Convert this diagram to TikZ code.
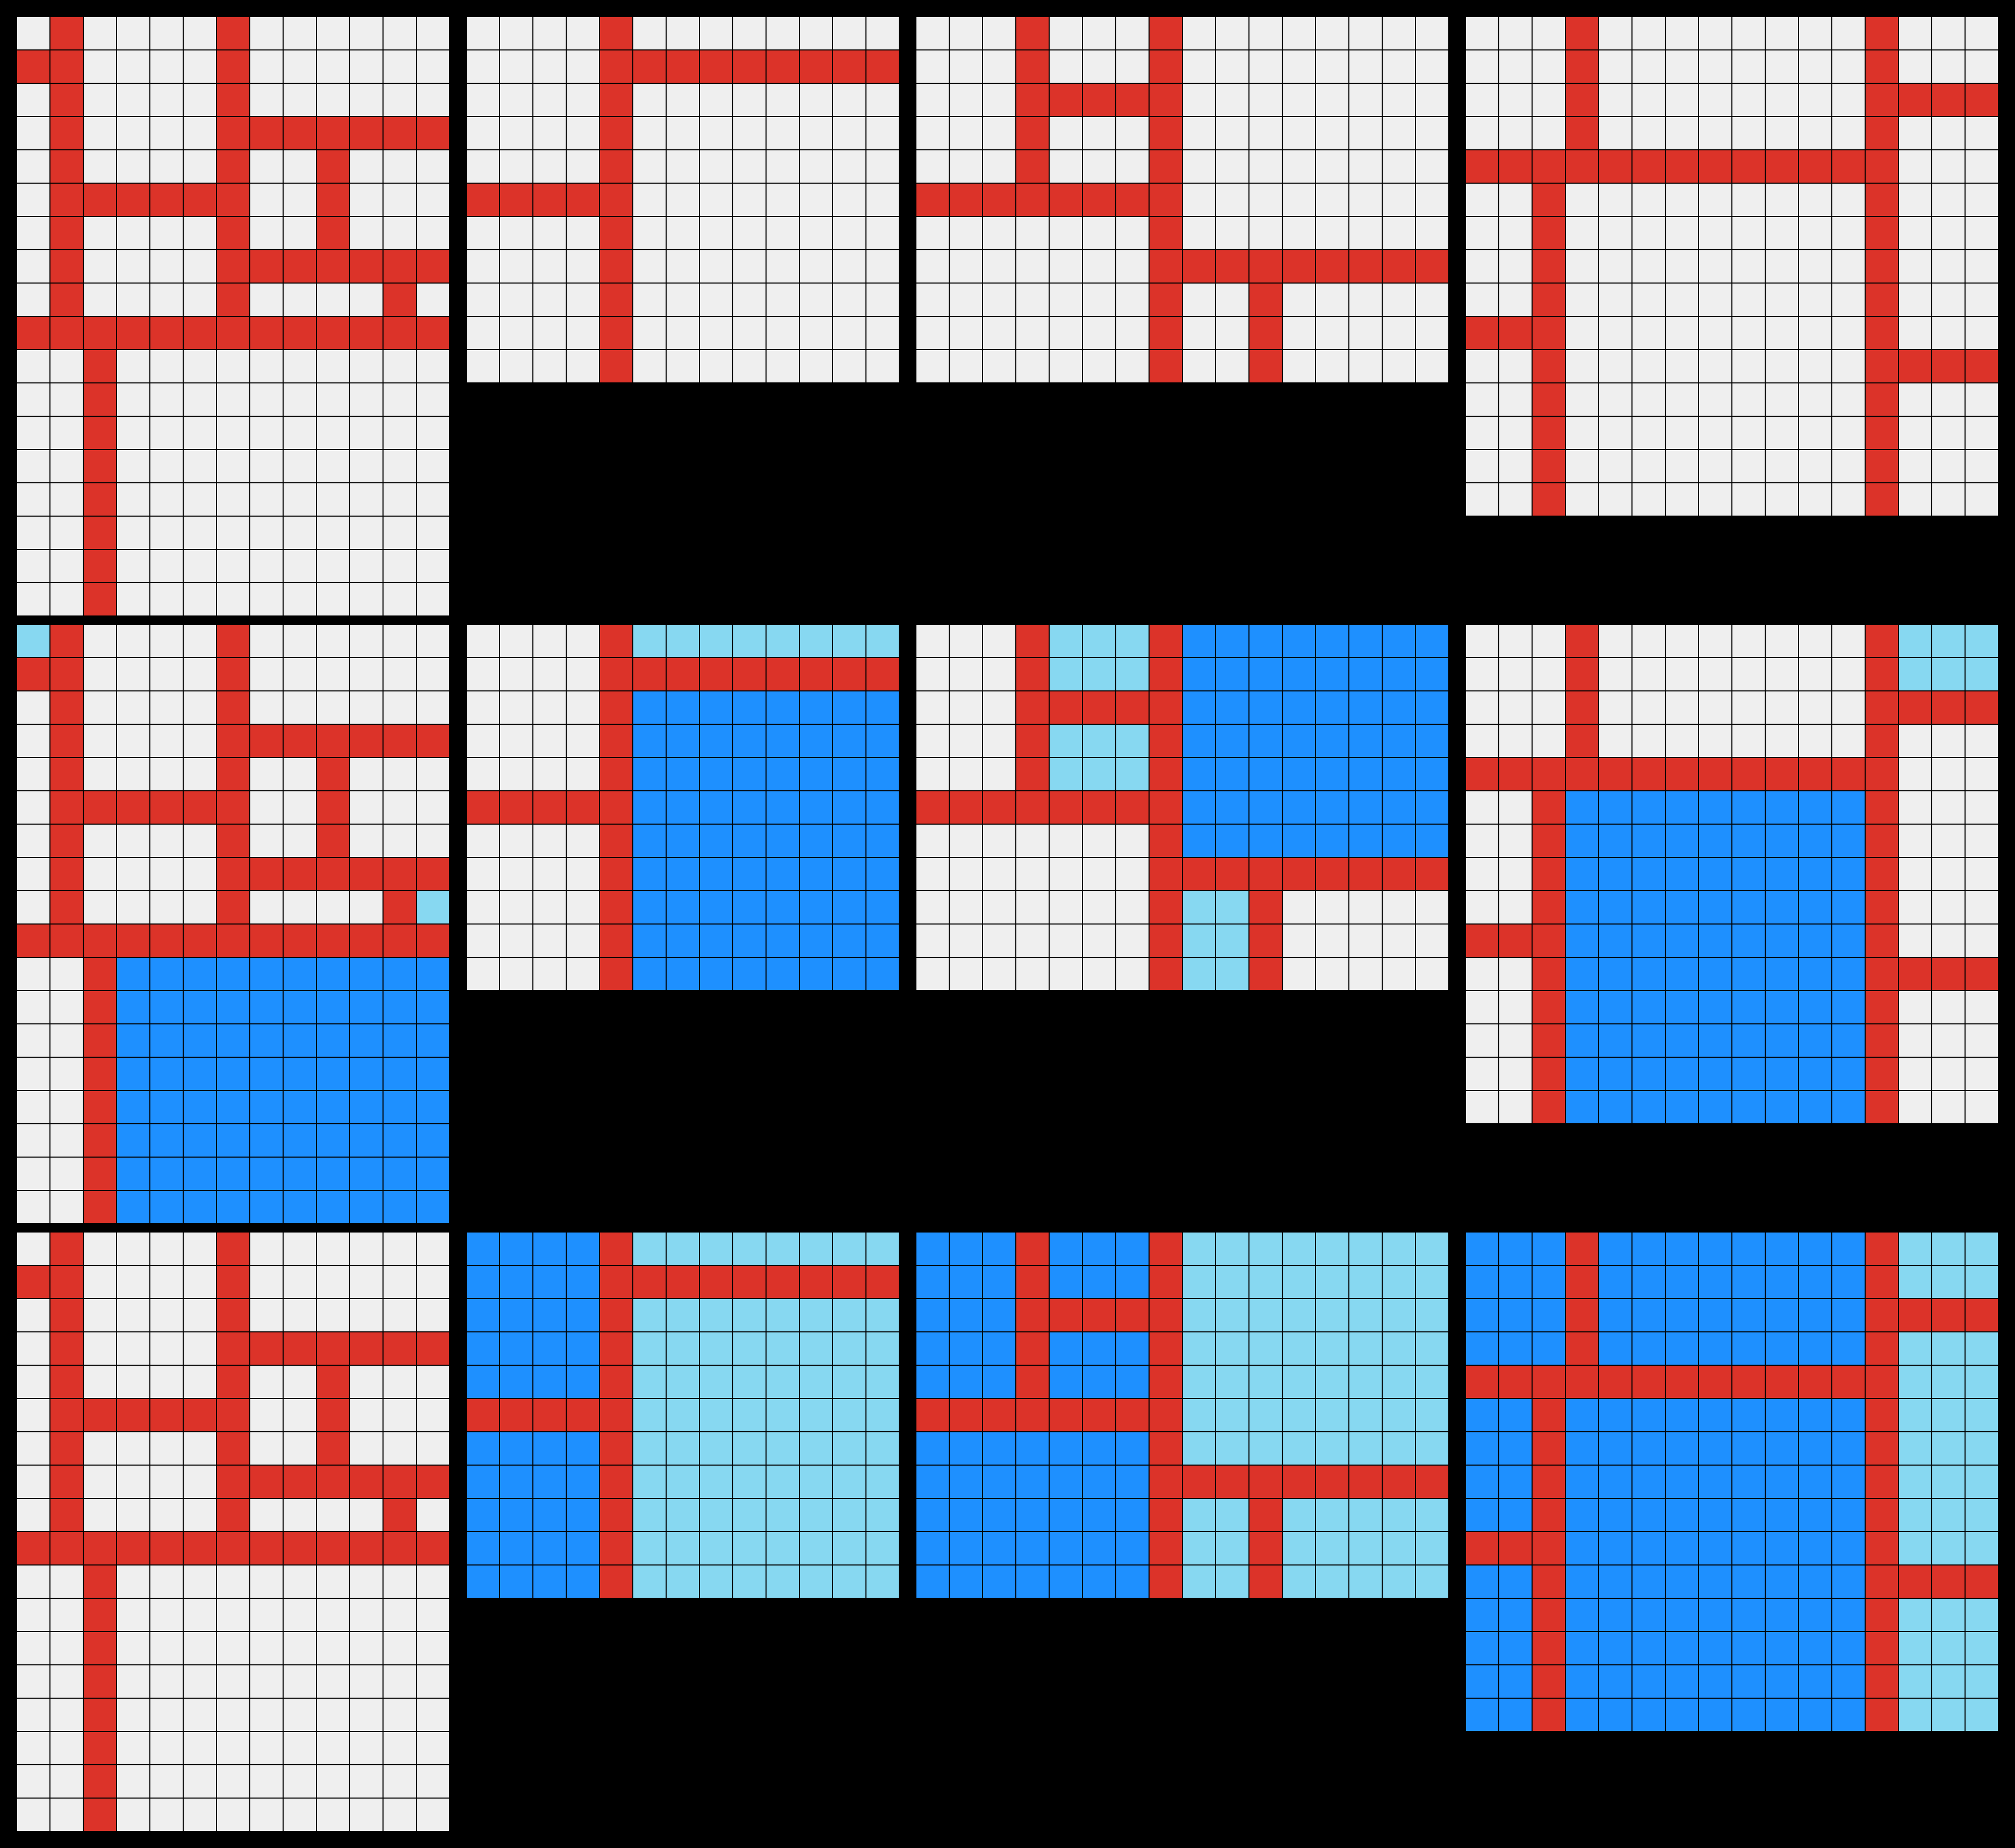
\documentclass[tikz,border=0pt]{standalone}
\definecolor{cgrey}{HTML}{EFEFEF}
\definecolor{cred}{HTML}{DC3329}
\definecolor{cblue}{HTML}{1E90FF}
\definecolor{clight}{HTML}{87D8F1}
\newcommand\fc[5]{\fill[#1] (#2,#3) rectangle ({#4+1},{#5+1});}
\newcommand\glines[2]{%
  \foreach \i in {0,...,#1} \draw[gl] (\i,0) -- (\i,#2);
  \foreach \j in {0,...,#2} \draw[gl] (0,\j) -- (#1,\j);}
\newcommand\redA{%
  \fc{cred}{1}{0}{1}{8}\fc{cred}{0}{1}{0}{1}\fc{cred}{6}{0}{6}{8}
  \fc{cred}{7}{3}{12}{3}\fc{cred}{9}{4}{9}{6}\fc{cred}{2}{5}{5}{5}
  \fc{cred}{7}{7}{12}{7}\fc{cred}{11}{8}{11}{8}\fc{cred}{0}{9}{12}{9}
  \fc{cred}{2}{10}{2}{17}}
\newcommand\redB{%
  \fc{cred}{4}{0}{4}{10}\fc{cred}{5}{1}{12}{1}\fc{cred}{0}{5}{3}{5}}
\newcommand\redC{%
  \fc{cred}{3}{0}{3}{5}\fc{cred}{7}{0}{7}{10}\fc{cred}{4}{2}{6}{2}
  \fc{cred}{0}{5}{6}{5}\fc{cred}{8}{7}{15}{7}\fc{cred}{10}{8}{10}{10}}
\newcommand\redD{%
  \fc{cred}{3}{0}{3}{4}\fc{cred}{12}{0}{12}{14}\fc{cred}{13}{2}{15}{2}
  \fc{cred}{0}{4}{11}{4}\fc{cred}{2}{5}{2}{14}\fc{cred}{0}{9}{1}{9}
  \fc{cred}{13}{10}{15}{10}}
\begin{document}
\begin{tikzpicture}[x=0.5cm,y=-0.5cm,gl/.style={black,line width=0.55pt}]
\fill[black] (0,0) rectangle (60.5,55.5);
\useasboundingbox (0,0) rectangle (60.5,55.5);
% ---------- row 1 ----------
\begin{scope}[shift={(0.5,0.5)}]
  \fc{cgrey}{0}{0}{12}{17}\redA\glines{13}{18}
\end{scope}
\begin{scope}[shift={(14,0.5)}]
  \fc{cgrey}{0}{0}{12}{10}\redB\glines{13}{11}
\end{scope}
\begin{scope}[shift={(27.5,0.5)}]
  \fc{cgrey}{0}{0}{15}{10}\redC\glines{16}{11}
\end{scope}
\begin{scope}[shift={(44,0.5)}]
  \fc{cgrey}{0}{0}{15}{14}\redD\glines{16}{15}
\end{scope}
% ---------- row 2 ----------
\begin{scope}[shift={(0.5,18.75)}]
  \fc{cgrey}{0}{0}{12}{17}
  \fc{clight}{0}{0}{0}{0}\fc{clight}{12}{8}{12}{8}\fc{cblue}{3}{10}{12}{17}
  \redA\glines{13}{18}
\end{scope}
\begin{scope}[shift={(14,18.75)}]
  \fc{cgrey}{0}{0}{12}{10}
  \fc{clight}{5}{0}{12}{0}\fc{cblue}{5}{2}{12}{10}
  \redB\glines{13}{11}
\end{scope}
\begin{scope}[shift={(27.5,18.75)}]
  \fc{cgrey}{0}{0}{15}{10}
  \fc{clight}{4}{0}{6}{1}\fc{clight}{4}{3}{6}{4}\fc{cblue}{8}{0}{15}{6}
  \fc{clight}{8}{8}{9}{10}
  \redC\glines{16}{11}
\end{scope}
\begin{scope}[shift={(44,18.75)}]
  \fc{cgrey}{0}{0}{15}{14}
  \fc{clight}{13}{0}{15}{1}\fc{cblue}{3}{5}{11}{14}
  \redD\glines{16}{15}
\end{scope}
% ---------- row 3 ----------
\begin{scope}[shift={(0.5,37)}]
  \fc{cgrey}{0}{0}{12}{17}\redA\glines{13}{18}
\end{scope}
\begin{scope}[shift={(14,37)}]
  \fc{cblue}{0}{0}{3}{10}\fc{clight}{5}{0}{12}{10}
  \redB\glines{13}{11}
\end{scope}
\begin{scope}[shift={(27.5,37)}]
  \fc{cblue}{0}{0}{6}{10}\fc{clight}{8}{0}{15}{10}
  \redC\glines{16}{11}
\end{scope}
\begin{scope}[shift={(44,37)}]
  \fc{cblue}{0}{0}{11}{14}\fc{clight}{13}{0}{15}{14}
  \redD\glines{16}{15}
\end{scope}
\end{tikzpicture}
\end{document}
